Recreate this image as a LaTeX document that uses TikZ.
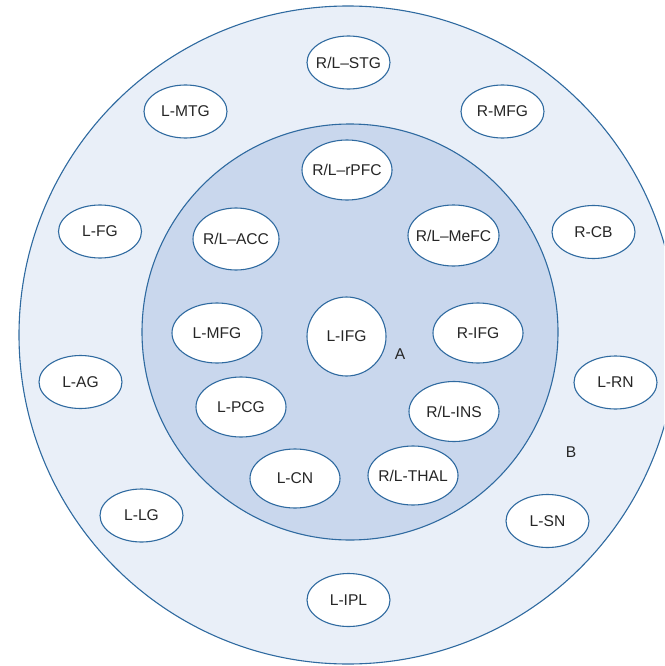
\documentclass[tikz,border=0pt]{standalone}
\usepackage{fontspec}
\setmainfont{Liberation Sans}
\usetikzlibrary{shapes.geometric}
\definecolor{ringline}{HTML}{2F6AA0}
\definecolor{outerfill}{HTML}{E9EFF8}
\definecolor{innerfill}{HTML}{C9D7ED}
\definecolor{labeltext}{HTML}{262626}
% keep long labels from widening their ellipse
\newcommand{\fitlabel}[1]{\makebox[0pt]{#1}}
\begin{document}
\begin{tikzpicture}[x=1pt,y=-1pt,
  ring/.style={draw=ringline,line width=1.1pt},
  region/.style={ellipse,draw=ringline,line width=1.1pt,fill=white,
    minimum width=#1,inner sep=0pt,text=labeltext,font=\fontsize{15.6}{15.6}\selectfont},
  region/.default=83pt,
  small/.style={region=83pt,minimum height=53pt},
  big/.style={region=90pt,minimum height=60pt},
  tag/.style={text=labeltext,font=\fontsize{15.6}{15.6}\selectfont,inner sep=0pt}]
\useasboundingbox (0,0) rectangle (664,666);
\clip (0,0) rectangle (664,666);
% outer ring (B) and inner core (A)
\fill[outerfill] (348,335) circle[radius=329pt];
\draw[ring] (348,335) circle[radius=329pt];
\fill[innerfill] (350,332) circle[radius=208pt];
\draw[ring] (350,332) circle[radius=208pt];
% outer ring regions
\node[small] (stg) at (348.5,62.5) {\fitlabel{R/L–STG}};
\node[small] (lmtg) at (185.5,111.5) {L-MTG};
\node[small] (rmfg) at (502.5,111.5) {R-MFG};
\node[small] (lfg) at (100,231.5) {L-FG};
\node[small] (rcb) at (593.5,232) {R-CB};
\node[small] (lag) at (80.5,382) {L-AG};
\node[small] (lrn) at (615.5,382.5) {L-RN};
\node[small] (llg) at (141.5,515.5) {L-LG};
\node[small] (lsn) at (547.5,521) {L-SN};
\node[small] (lipl) at (348.5,600) {L-IPL};
% inner core regions
\node[big] (rpfc) at (347,170) {\fitlabel{R/L–rPFC}};
\node[big,minimum width=86pt,minimum height=62pt] (acc) at (236,239) {\fitlabel{R/L–ACC}};
\node[big,minimum width=91pt,minimum height=61pt] (mefc) at (453.5,235.5) {\fitlabel{R/L–MeFC}};
\node[big] (lmfg) at (217,333) {L-MFG};
\node[circle,draw=ringline,line width=1.1pt,fill=white,minimum size=79pt,
  inner sep=0pt,text=labeltext,font=\fontsize{15.6}{15.6}\selectfont] (lifg) at (346.5,336.5) {L-IFG};
\node[big] (rifg) at (478,333) {R-IFG};
\node[big] (lpcg) at (241,407) {L-PCG};
\node[big] (ins) at (454,411.5) {\fitlabel{R/L-INS}};
\node[big,minimum height=59pt] (lcn) at (295,478.5) {L-CN};
\node[big,minimum height=59pt] (thal) at (413,475.5) {\fitlabel{R/L-THAL}};
% ring labels
\node[tag] (labA) at (400,354) {A};
\node[tag] (labB) at (571,452) {B};
\end{tikzpicture}
\end{document}
